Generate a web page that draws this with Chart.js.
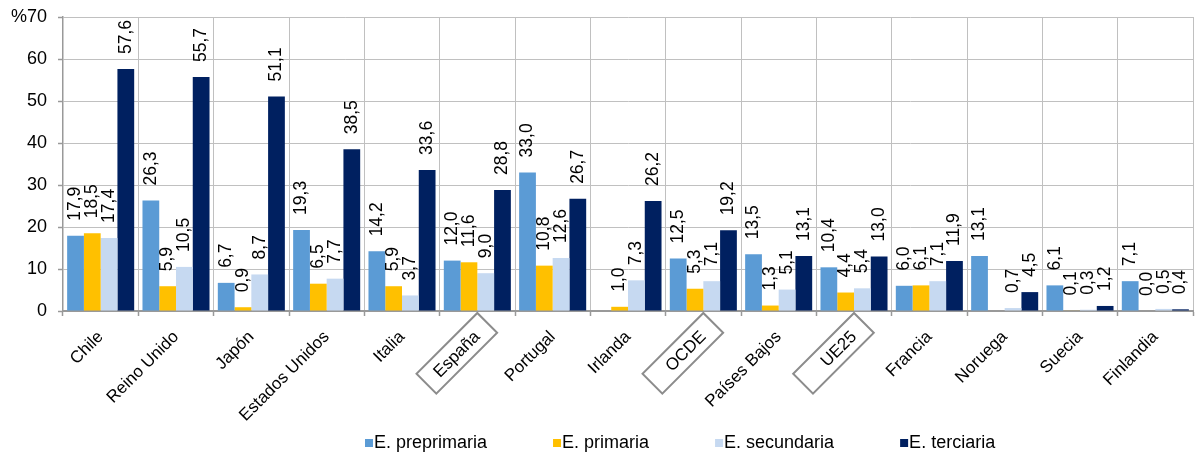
<!DOCTYPE html>
<html>
<head>
<meta charset="utf-8">
<script src="https://cdn.jsdelivr.net/npm/chart.js@4.4.1/dist/chart.umd.min.js"></script>
<style>
  html, body { margin: 0; padding: 0; background: #ffffff; }
  #wrap { width: 1195px; height: 453px; position: relative; }
</style>
</head>
<body>
<div id="wrap"><canvas id="c" width="1195" height="453"></canvas></div>
<script>
const categories = ["Chile", "Reino Unido", "Japón", "Estados Unidos", "Italia", "España", "Portugal", "Irlanda", "OCDE", "Países Bajos", "UE25", "Francia", "Noruega", "Suecia", "Finlandia"];
const preprimaria = [17.9, 26.3, 6.7, 19.3, 14.2, 12.0, 33.0, null, 12.5, 13.5, 10.4, 6.0, 13.1, 6.1, 7.1];
const primaria    = [18.5, 5.9, 0.9, 6.5, 5.9, 11.6, 10.8, 1.0, 5.3, 1.3, 4.4, 6.1, null, 0.1, 0.0];
const secundaria  = [17.4, 10.5, 8.7, 7.7, 3.7, 9.0, 12.6, 7.3, 7.1, 5.1, 5.4, 7.1, 0.7, 0.3, 0.5];
const terciaria   = [57.6, 55.7, 51.1, 38.5, 33.6, 28.8, 26.7, 26.2, 19.2, 13.1, 13.0, 11.9, 4.5, 1.2, 0.4];
const seriesNames = ["E. preprimaria", "E. primaria", "E. secundaria", "E. terciaria"];
const seriesColors = ["#5b9bd5", "#ffc000", "#c6d9f1", "#002060"];
const boxedCategories = ["España", "OCDE", "UE25"];
const yMin = 0, yMax = 70, yStep = 10;

const FONT = "'Liberation Sans', Arial, sans-serif";
const fmt = v => v.toFixed(1).replace('.', ',');

const valueLabels = {
  id: 'valueLabels',
  afterDatasetsDraw(chart) {
    const ctx = chart.ctx;
    ctx.save();
    ctx.fillStyle = '#000';
    ctx.font = "17.5px " + FONT;
    ctx.textAlign = 'left';
    ctx.textBaseline = 'middle';
    chart.data.datasets.forEach((ds, i) => {
      const meta = chart.getDatasetMeta(i);
      meta.data.forEach((el, j) => {
        const v = ds.data[j];
        if (v === null || v === undefined) return;
        ctx.save();
        ctx.translate(el.x, el.y - 15);
        ctx.rotate(-Math.PI / 2);
        ctx.fillText(fmt(v), 0, 0);
        ctx.restore();
      });
    });
    ctx.restore();
  }
};

const boxes = {
  id: 'boxes',
  afterDraw(chart) {
    const ctx = chart.ctx;
    const xs = chart.scales.x;
    ctx.save();
    ctx.strokeStyle = '#8c8c8c';
    ctx.lineWidth = 2;
    boxedCategories.forEach(name => {
      const idx = categories.indexOf(name);
      if (idx < 0) return;
      const x = xs.getPixelForValue(idx);
      const y = chart.chartArea.bottom + 2;
      ctx.save();
      ctx.translate(x, y);
      ctx.rotate(-Math.PI / 4);
      ctx.strokeRect(-86, 0, 86, 28);
      ctx.restore();
    });
    ctx.restore();
  }
};

const customLegend = {
  id: 'customLegend',
  afterDraw(chart) {
    const ctx = chart.ctx;
    ctx.save();
    ctx.font = "18px " + FONT;
    ctx.textBaseline = 'middle';
    ctx.textAlign = 'left';
    let x = 365;
    const y = 443;
    chart.data.datasets.forEach(ds => {
      ctx.fillStyle = ds.backgroundColor;
      ctx.fillRect(x, y - 4, 8, 8);
      ctx.fillStyle = '#000';
      ctx.fillText(ds.label, x + 9, y);
      x += 9 + ctx.measureText(ds.label).width + 66;
    });
    ctx.restore();
  }
};

const datasets = [preprimaria, primaria, secundaria, terciaria].map((d, i) => ({
  label: seriesNames[i],
  data: d,
  backgroundColor: seriesColors[i],
  borderWidth: 0,
  barPercentage: 1.0,
  categoryPercentage: 0.89
}));

new Chart(document.getElementById('c'), {
  type: 'bar',
  data: { labels: categories, datasets },
  options: {
    responsive: false,
    animation: false,
    devicePixelRatio: 1,
    layout: { padding: { top: 17, right: 2, left: 0, bottom: 0 } },
    plugins: { legend: { display: false }, tooltip: { enabled: false } },
    scales: {
      x: {
        grid: {
          color: '#c0c0c0',
          borderDash: [3, 2],
          drawTicks: true,
          tickLength: 5,
          tickColor: '#999999',
          tickBorderDash: [],
          tickWidth: 1.5
        },
        border: { display: true, color: '#999999', width: 2 },
        ticks: {
          autoSkip: false,
          minRotation: 45,
          maxRotation: 45,
          color: '#000',
          padding: 11,
          font: { family: FONT, size: 17 }
        },
        afterFit(scale) { scale.height = 142; scale.paddingLeft = 0; scale.paddingRight = 0; }
      },
      y: {
        min: yMin,
        max: yMax,
        grid: {
          color: '#c0c0c0',
          borderDash: [3, 2],
          drawTicks: true,
          tickLength: 5,
          tickColor: '#999999',
          tickBorderDash: [],
          tickWidth: 1.5
        },
        border: { display: true, color: '#999999', width: 1.5 },
        ticks: {
          stepSize: yStep,
          color: '#000',
          padding: 11,
          font: { family: FONT, size: 18 },
          callback: v => (v === yMax ? '%' + v : String(v))
        },
        afterFit(scale) { scale.width = 63; scale.paddingTop = 0; scale.paddingBottom = 0; }
      }
    }
  },
  plugins: [valueLabels, boxes, customLegend]
});
</script>
</body>
</html>
